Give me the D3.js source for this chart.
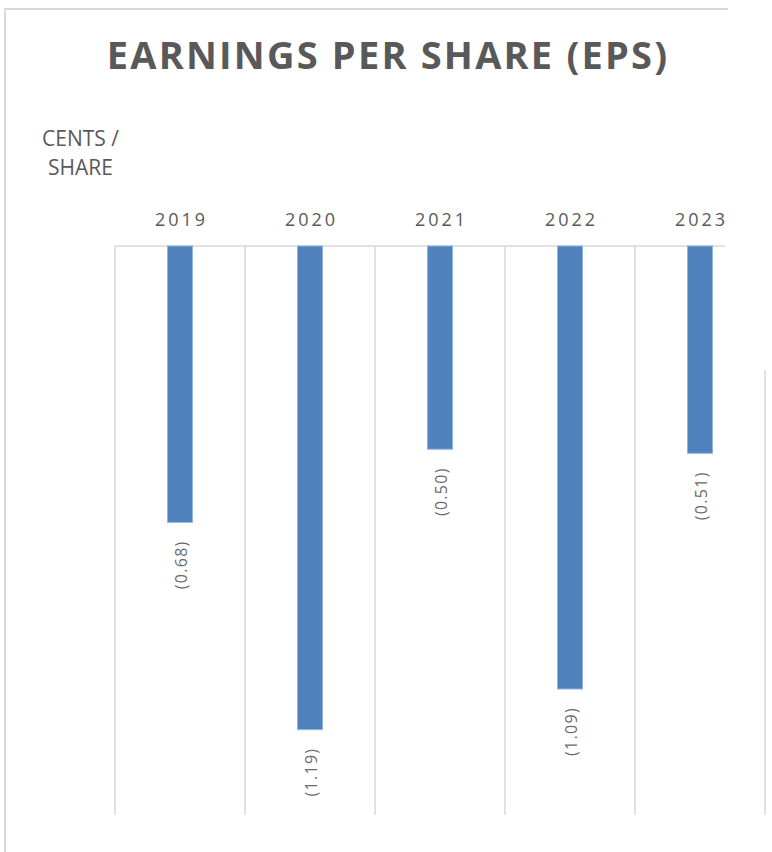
<!DOCTYPE html>
<html><head><meta charset="utf-8">
<script src="https://cdn.jsdelivr.net/npm/d3@7"></script>
<style>body{margin:0;background:#fff}svg{display:block}</style>
</head><body>
<script>
const categories = ["2019", "2020", "2021", "2022", "2023"];
const eps = [-0.68, -1.19, -0.50, -1.09, -0.51];
const labels = ["(0.68)", "(1.19)", "(0.50)", "(1.09)", "(0.51)"];
const title = "EARNINGS PER SHARE (EPS)";
const unitLines = ["CENTS /", "SHARE"];

const W = 772, H = 852;
const svg = d3.select("body").append("svg").attr("width", W).attr("height", H);
const grey = "#595959", gridC = "#d9d9d9";
const font = "'Open Sans', sans-serif";

// chart frame
svg.append("line").attr("x1", 5).attr("x2", 5).attr("y1", 8).attr("y2", H).attr("stroke", gridC).attr("stroke-width", 2);
svg.append("line").attr("x1", 4).attr("x2", 728).attr("y1", 9).attr("y2", 9).attr("stroke", gridC).attr("stroke-width", 2);

const x = d3.scaleBand().domain(categories).range([115, 765]).paddingInner(0).paddingOuter(0);
const y = d3.scaleLinear().domain([0, -1.4]).range([246, 815]);
const barW = 25;

// vertical gridlines (category boundaries)
const bounds = categories.map(c => x(c)).concat([x.range()[1]]);
svg.append("g").selectAll("line").data(bounds).join("line")
  .attr("x1", d => d).attr("x2", d => d)
  .attr("y1", (d, i) => i === bounds.length - 1 ? 370 : y(0))
  .attr("y2", y(-1.4))
  .attr("stroke", gridC).attr("stroke-width", 1.5);

// axis line at zero
svg.append("line").attr("x1", 115).attr("x2", 725).attr("y1", y(0)).attr("y2", y(0)).attr("stroke", gridC).attr("stroke-width", 1.5);

// bars
svg.append("g").selectAll("rect").data(eps).join("rect")
  .attr("x", (d, i) => x(categories[i]) + x.bandwidth() / 2 - barW / 2)
  .attr("y", y(0))
  .attr("width", barW)
  .attr("height", d => y(d) - y(0))
  .attr("fill", "#4F81BD").attr("stroke", "#8EB4E3").attr("stroke-width", 1);

// data labels
svg.append("g").selectAll("text").data(eps).join("text")
  .attr("transform", (d, i) => `translate(${x(categories[i]) + x.bandwidth() / 2 + 7},${y(d) + 18}) rotate(-90)`)
  .attr("text-anchor", "end")
  .attr("font-family", font).attr("font-size", 16).attr("letter-spacing", 1.3).attr("fill", "#6a6a6a")
  .text((d, i) => labels[i]);

// category labels on top
svg.append("g").selectAll("text").data(categories).join("text")
  .attr("x", d => x(d) + x.bandwidth() / 2 + 1.5).attr("y", 226)
  .attr("text-anchor", "middle")
  .attr("font-family", font).attr("font-size", 18).attr("letter-spacing", 3).attr("fill", grey)
  .text(d => d);

// title
svg.append("text").attr("x", 388).attr("y", 69).attr("text-anchor", "middle")
  .attr("font-family", font).attr("font-weight", "bold").attr("font-size", 38)
  .attr("letter-spacing", 2.2).attr("fill", grey).text(title);

// unit label
svg.append("text").attr("x", 42).attr("y", 146).attr("font-family", font).attr("font-size", 21).attr("fill", grey).text(unitLines[0]);
svg.append("text").attr("x", 48).attr("y", 175).attr("font-family", font).attr("font-size", 21).attr("fill", grey).text(unitLines[1]);
</script>
</body></html>
